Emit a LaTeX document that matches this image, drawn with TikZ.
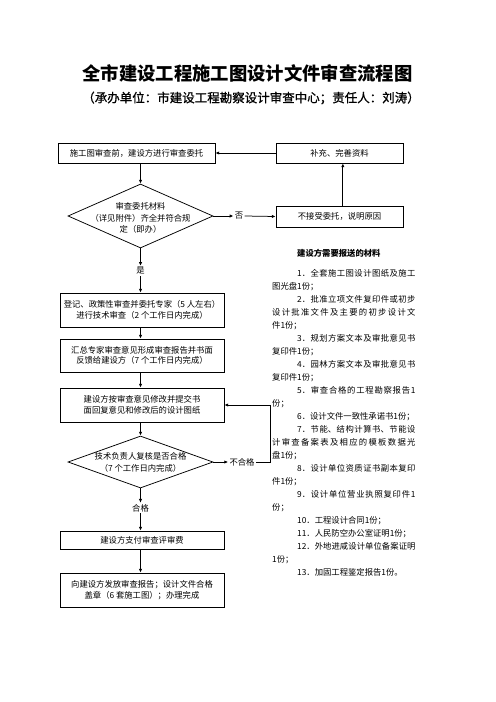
\documentclass[tikz,border=0pt]{standalone}
\usepackage{fontspec}
\setmainfont{Noto Sans CJK SC}
\newfontfamily\subfont[FakeBold=1]{Noto Sans CJK SC}
\XeTeXlinebreaklocale "zh"
\XeTeXlinebreakskip=0pt plus 2pt
\usetikzlibrary{arrows.meta,shapes.geometric}

\tikzset{
  box/.style={draw, line width=.9pt, inner sep=0pt, align=center, font=\fontsize{10}{12.8}\selectfont},
  decision/.style={draw, diamond, line width=.9pt, inner sep=0pt},
  tag/.style={inner sep=1.5pt, align=center, font=\fontsize{10}{14}\selectfont},
  arr/.style={line width=.9pt, -{Latex[length=4.5pt,width=4pt]}},
}

\begin{document}
\begin{tikzpicture}[x=1.2pt, y=-1.2pt]
\useasboundingbox (0,0) rectangle (496,702);

\node[font=\fontsize{22}{26}\selectfont\bfseries] (title) at (247.5,73) {全市建设工程施工图设计文件审查流程图};
\node[font=\fontsize{15}{18}\selectfont\subfont] (subtitle) at (251,98) {（承办单位：市建设工程勘察设计审查中心；责任人：刘涛）};

\node[box, minimum width=188.4pt, minimum height=24pt] (box1) at (136.5,153) {施工图审查前，建设方进行审查委托};
\node[box, minimum width=152.4pt, minimum height=24pt] (supply) at (339.5,153) {补充、完善资料};
\node[decision, minimum width=174pt, minimum height=76.8pt] (d1) at (140.5,216) {};
\node[tag] (d1txt) at (140.5,218) {审查委托材料\\（详见附件）齐全并符合规\\定（即办）};
\node[tag] (no) at (239,216) {否};
\node[box, minimum width=152.4pt, minimum height=25.2pt] (reject) at (339.5,216.5) {不接受委托，说明原因};
\node[tag] (yes) at (140.5,271) {是};

\node[box, minimum width=196.8pt, minimum height=40.8pt] (reg) at (142,310) {登记、政策性审查并委托专家（5 人左右）\\进行技术审查（2 个工作日内完成）};
\node[box, minimum width=196.8pt, minimum height=39.6pt] (summary) at (142,355.5) {汇总专家审查意见形成审查报告并书面\\反馈给建设方（7 个工作日内完成）};
\node[box, minimum width=196.8pt, minimum height=40.8pt] (revise) at (142,405) {建设方按审查意见修改并提交书\\面回复意见和修改后的设计图纸};
\node[decision, minimum width=174pt, minimum height=62.4pt] (d2) at (140.5,462) {};
\node[tag] (d2txt) at (140.5,462.5) {技术负责人复核是否合格\\（7 个工作日内完成）};
\node[tag] (fail) at (242,462) {不合格};
\coordinate (back) at (270,462);
\node[tag] (pass) at (140.5,508) {合格};
\node[box, minimum width=196.8pt, minimum height=21.6pt] (pay) at (142,540) {建设方支付审查评审费};
\node[box, minimum width=196.8pt, minimum height=40.8pt] (issue) at (142,590) {向建设方发放审查报告；设计文件合格\\盖章（6 套施工图）；办理完成};

\node[anchor=west, inner sep=0pt, font=\fontsize{10}{12}\selectfont\bfseries] (listhead) at (297,253) {建设方需要报送的材料};
\node[anchor=base west, text width=172pt, align=justify, inner sep=0pt, font=\fontsize{10}{15.6}\selectfont] (items) at (272,276.2) {\parindent=0pt
\hspace*{30pt}1．全套施工图设计图纸及施工\linebreak 图光盘1份；\par
\hspace*{30pt}2．批准立项文件复印件或初步\linebreak 设计批准文件及主要的初步设计文\linebreak 件1份；\par
\hspace*{30pt}3．规划方案文本及审批意见书\linebreak 复印件1份；\par
\hspace*{30pt}4．园林方案文本及审批意见书\linebreak 复印件1份；\par
\hspace*{30pt}5．审查合格的工程勘察报告1\linebreak 份；\par
\hspace*{30pt}6．设计文件一致性承诺书1份；\par
\hspace*{30pt}7．节能、结构计算书、节能设\linebreak 计审查备案表及相应的模板数据光\linebreak 盘1份；\par
\hspace*{30pt}8．设计单位资质证书副本复印\linebreak 件1份；\par
\hspace*{30pt}9．设计单位营业执照复印件1\linebreak 份；\par
\hspace*{30pt}10．工程设计合同1份；\par
\hspace*{30pt}11．人民防空办公室证明1份；\par
\hspace*{30pt}12．外地进咸设计单位备案证明\linebreak 1份；\par
\hspace*{30pt}13．加固工程鉴定报告1份。};

\draw[arr] (d1.north |- box1.south) -- (d1.north);
\draw[arr] (d1.east) -- (no.west);
\draw[arr] (no.east) -- (reject.west);
\draw[arr] ([xshift=4pt]reject.north) -- ([xshift=4pt]supply.south);
\draw[arr] (supply.west) -- (box1.east);
\draw[arr] (d1.south) -- (yes.north);
\draw[arr] (yes.south) -- (yes.south |- reg.north);
\draw[arr] (d1.south |- reg.south) -- (d1.south |- summary.north);
\draw[arr] (d1.south |- summary.south) -- (d1.south |- revise.north);
\draw[arr] (d1.south |- revise.south) -- (d2.north);
\draw[arr] (d2.east) -- (fail.west);
\draw[arr] (fail.east) -- (back) |- (revise.east);
\draw[arr] (d2.south) -- (pass.north);
\draw[arr] (pass.south) -- (pass.south |- pay.north);
\draw[arr] (pass.south |- pay.south) -- (pass.south |- issue.north);
\end{tikzpicture}
\end{document}
